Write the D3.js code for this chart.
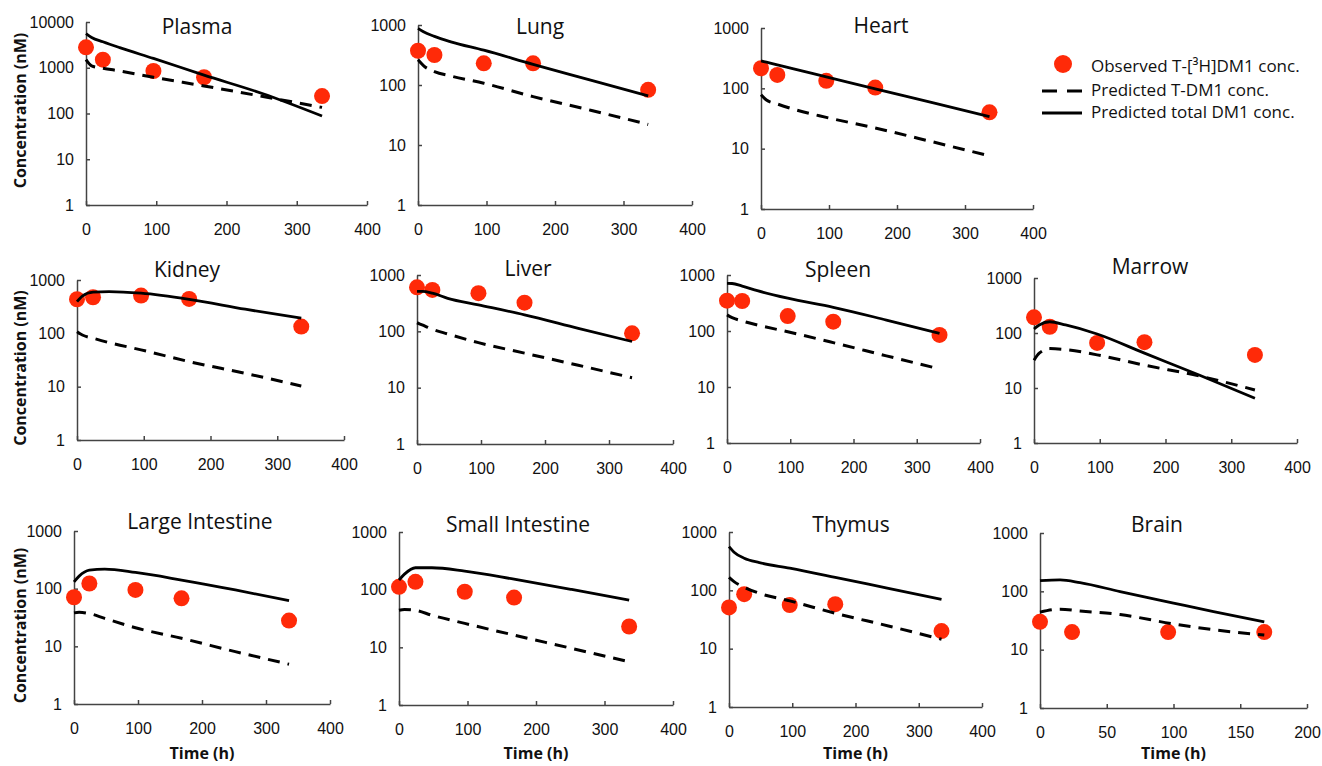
<!DOCTYPE html>
<html>
<head>
<meta charset="utf-8">
<script src="https://cdn.jsdelivr.net/npm/d3@7"></script>
<style>
  body { margin: 0; background: #fff; }
  svg { font-family: "Open Sans", "DejaVu Sans", sans-serif; }
  .axis path, .axis line { stroke: #444; stroke-width: 1.5; }
  .axis text { font-size: 16px; fill: #111; }
  .title { font-size: 21px; fill: #111; text-anchor: middle; }
  .lab { font-size: 16px; font-weight: bold; fill: #111; text-anchor: middle; }
  .leg { font-size: 17px; fill: #111; }
</style>
</head>
<body>
<div id="chart"></div>
<script>
// sampling times (h)
var obsTime = [0, 24, 96, 168, 336];
var brainObsTime = [0, 24, 96, 168];
var predTime = [0, 8, 24, 48, 96, 168, 252, 336];
var brainPredTime = [0, 15, 30, 60, 100, 130, 168];

// observed T-[3H]DM1 conc. (nM)
var plasmaObs = [2800, 1500, 850, 620, 240];
var lungObs = [372, 316, 230, 230, 83];
var heartObs = [215, 167, 133, 103, 40];
var kidneyObs = [435, 475, 510, 442, 134];
var liverObs = [605, 543, 475, 323, 92];
var spleenObs = [348, 343, 185, 147, 85];
var marrowObs = [193, 130, 66, 68, 40];
var largeIntObs = [71, 123, 95, 68, 28];
var smallIntObs = [112, 137, 92, 73, 23];
var thymusObs = [51, 86, 56, 58, 20];
var brainObs = [30, 20, 20, 20];

// predicted T-DM1 conc. (dashed)
var plasmaTdm1 = [1500, 1100, 980, 850, 620, 400, 235, 136];
var lungTdm1 = [263, 210, 167, 141, 107, 64, 38, 22];
var heartTdm1 = [78, 64, 55, 45, 33, 22, 13, 7.6];
var kidneyTdm1 = [107, 93, 81, 67, 49, 29.5, 17.8, 10.3];
var liverTdm1 = [142, 130, 109, 90, 63, 41, 25, 15];
var spleenTdm1 = [194, 173, 151, 128, 97, 62, 36, 21];
var marrowTdm1 = [32, 43, 52, 50, 40, 26, 16.5, 9.2];
var largeIntTdm1 = [38, 39, 37, 30.5, 21, 13.8, 8.1, 4.9];
var smallIntTdm1 = [44, 45.5, 44, 36, 26, 16.3, 9.6, 5.6];
var thymusTdm1 = [167, 141, 113, 89, 66, 40.5, 24.5, 14.5];
var brainTdm1 = [44, 49.5, 46, 40, 27.6, 22, 17.8];

// predicted total DM1 conc. (solid)
var plasmaTotal = [5600, 4600, 3700, 2750, 1600, 690, 270, 88];
var lungTotal = [880, 770, 645, 525, 380, 221, 121, 66];
var heartTotal = [285, 271, 245, 210, 155, 98, 58, 34];
var kidneyTotal = [394, 500, 590, 605, 565, 435, 283, 192];
var liverTotal = [510, 510, 475, 386, 295, 196, 113, 66];
var spleenTotal = [710, 705, 635, 525, 385, 265, 157, 91];
var marrowTotal = [118, 140, 160, 140, 96, 43, 17, 6.5];
var largeIntTotal = [131, 165, 210, 218, 191, 141, 95, 62];
var smallIntTotal = [147, 186, 240, 240, 210, 152, 101, 66];
var thymusTotal = [560, 450, 355, 299, 240, 167, 108, 70];
var brainTotal = [152, 157, 141, 99, 63, 45, 30];

var W = 1322, H = 766;
var red = "#ff2a08";

// where each small chart sits on the page
var boxes = [
  {name: "Plasma", l: 86, r: 367, t: 22, b: 205, tx: 197, ty: 34, yMax: 10000, xMax: 400, step: 100},
  {name: "Lung", l: 418, r: 692, t: 25, b: 205, tx: 540, ty: 34, yMax: 1000, xMax: 400, step: 100},
  {name: "Heart", l: 761, r: 1033, t: 28, b: 209, tx: 881, ty: 33, yMax: 1000, xMax: 400, step: 100},
  {name: "Kidney", l: 77, r: 344, t: 280, b: 440, tx: 187, ty: 277, yMax: 1000, xMax: 400, step: 100},
  {name: "Liver", l: 417, r: 673, t: 275, b: 444, tx: 528, ty: 276, yMax: 1000, xMax: 400, step: 100},
  {name: "Spleen", l: 727, r: 980, t: 275, b: 443, tx: 838, ty: 277, yMax: 1000, xMax: 400, step: 100},
  {name: "Marrow", l: 1034, r: 1297, t: 278, b: 443, tx: 1150, ty: 274, yMax: 1000, xMax: 400, step: 100},
  {name: "Large Intestine", l: 74, r: 330, t: 531, b: 704, tx: 200, ty: 529, yMax: 1000, xMax: 400, step: 100},
  {name: "Small Intestine", l: 399, r: 673, t: 532, b: 705, tx: 518, ty: 532, yMax: 1000, xMax: 400, step: 100},
  {name: "Thymus", l: 729, r: 982, t: 532, b: 707, tx: 851, ty: 532, yMax: 1000, xMax: 400, step: 100},
  {name: "Brain", l: 1040, r: 1307, t: 533, b: 708, tx: 1157, ty: 532, yMax: 1000, xMax: 200, step: 50}
];

var series = [
  [obsTime, plasmaObs, predTime, plasmaTdm1, plasmaTotal],
  [obsTime, lungObs, predTime, lungTdm1, lungTotal],
  [obsTime, heartObs, predTime, heartTdm1, heartTotal],
  [obsTime, kidneyObs, predTime, kidneyTdm1, kidneyTotal],
  [obsTime, liverObs, predTime, liverTdm1, liverTotal],
  [obsTime, spleenObs, predTime, spleenTdm1, spleenTotal],
  [obsTime, marrowObs, predTime, marrowTdm1, marrowTotal],
  [obsTime, largeIntObs, predTime, largeIntTdm1, largeIntTotal],
  [obsTime, smallIntObs, predTime, smallIntTdm1, smallIntTotal],
  [obsTime, thymusObs, predTime, thymusTdm1, thymusTotal],
  [brainObsTime, brainObs, brainPredTime, brainTdm1, brainTotal]
];

var svg = d3.select("#chart").append("svg")
    .attr("width", W)
    .attr("height", H);

boxes.forEach(function(p, i) {
  var s = series[i];
  var x = d3.scaleLinear().domain([0, p.xMax]).range([p.l, p.r]);
  var y = d3.scaleLog().domain([1, p.yMax]).range([p.b, p.t]);
  var yTicks = d3.range(0, Math.log10(p.yMax) + 1).map(function(k) { return Math.pow(10, k); });

  // axes
  svg.append("g")
     .attr("class", "axis")
     .attr("transform", "translate(" + p.l + ",0)")
     .call(d3.axisLeft(y).tickValues(yTicks).tickFormat(d3.format("d"))
       .tickSize(-4).tickSizeOuter(0).tickPadding(12));

  svg.append("g")
     .attr("class", "axis")
     .attr("transform", "translate(0," + p.b + ")")
     .call(d3.axisBottom(x).tickValues(d3.range(0, p.xMax + 1, p.step))
       .tickSize(-4).tickSizeOuter(0).tickPadding(19));

  svg.selectAll(".axis .domain").attr("stroke", "#444");

  // observed points
  svg.append("g").selectAll("circle")
     .data(d3.zip(s[0], s[1]))
     .enter().append("circle")
     .attr("cx", function(d) { return x(d[0]); })
     .attr("cy", function(d) { return y(d[1]); })
     .attr("r", 8)
     .attr("fill", red);

  var line = d3.line()
      .x(function(d) { return x(d[0]); })
      .y(function(d) { return y(d[1]); })
      .curve(d3.curveMonotoneX);

  svg.append("path")
     .datum(d3.zip(s[2], s[3]))
     .attr("fill", "none")
     .attr("stroke", "#000")
     .attr("stroke-width", 3)
     .attr("stroke-dasharray", "12,8")
     .attr("d", line);

  svg.append("path")
     .datum(d3.zip(s[2], s[4]))
     .attr("fill", "none")
     .attr("stroke", "#000")
     .attr("stroke-width", 2.8)
     .attr("d", line);

  svg.append("text")
     .attr("class", "title")
     .attr("x", p.tx)
     .attr("y", p.ty)
     .text(p.name);

  // left column gets the y label, bottom row the x label
  if (p.l < 100) {
    var cy = (p.t + p.b) / 2 + (i === 0 ? -3 : 8);
    svg.append("text")
       .attr("class", "lab")
       .attr("transform", "translate(26," + cy + ") rotate(-90)")
       .text("Concentration (nM)");
  }
  if (p.t > 500) {
    svg.append("text")
       .attr("class", "lab")
       .attr("x", (p.l + p.r) / 2)
       .attr("y", 759)
       .text("Time (h)");
  }
});

// legend
var leg = svg.append("g");
leg.append("circle").attr("cx", 1063).attr("cy", 64).attr("r", 9).attr("fill", red);
leg.append("line").attr("x1", 1042).attr("x2", 1082).attr("y1", 91).attr("y2", 91)
   .attr("stroke", "#000").attr("stroke-width", 3).attr("stroke-dasharray", "15,10");
leg.append("line").attr("x1", 1042).attr("x2", 1082).attr("y1", 113).attr("y2", 113)
   .attr("stroke", "#000").attr("stroke-width", 3);
leg.append("text").attr("class", "leg").attr("x", 1091).attr("y", 72).text("Observed T-[³H]DM1 conc.");
leg.append("text").attr("class", "leg").attr("x", 1091).attr("y", 96).text("Predicted T-DM1 conc.");
leg.append("text").attr("class", "leg").attr("x", 1091).attr("y", 118).text("Predicted total DM1 conc.");
</script>
</body>
</html>
